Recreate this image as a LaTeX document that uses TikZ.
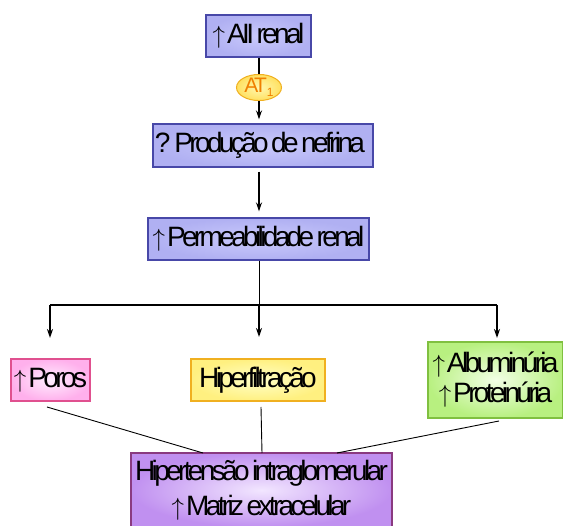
\documentclass[tikz,border=0pt]{standalone}
\usepackage{fontspec}
\setmainfont{Liberation Sans}[LetterSpace=-13,WordSpace=0.6]
\usetikzlibrary{arrows.meta,shapes.geometric}
\definecolor{bluefill}{HTML}{B0B0F2}
\definecolor{bluein}{HTML}{CACAFC}
\definecolor{blueline}{HTML}{4848A8}
\definecolor{pinkout}{HTML}{FFB0EC}
\definecolor{pinkin}{HTML}{FFEEFF}
\definecolor{pinkline}{HTML}{E0508F}
\definecolor{yelout}{HTML}{FFF080}
\definecolor{yelin}{HTML}{FFFFC8}
\definecolor{yelline}{HTML}{F0B020}
\definecolor{elout}{HTML}{FFE060}
\definecolor{elin}{HTML}{FFF8B0}
\definecolor{greenout}{HTML}{B8F080}
\definecolor{greenin}{HTML}{F2FFE6}
\definecolor{greenline}{HTML}{80C040}
\definecolor{purpout}{HTML}{C090F0}
\definecolor{purpin}{HTML}{F2E6FF}
\definecolor{purpline}{HTML}{8A3A80}
\definecolor{atorange}{HTML}{F08000}
\newcommand{\up}{$\uparrow$\hspace{2pt}}
\tikzset{
  basebox/.style={draw, line width=1.2pt, inner sep=0pt, align=center,
    font=\fontsize{28}{30}\selectfont},
  bluebox/.style={basebox, draw=blueline, inner color=bluein, outer color=bluefill},
  pinkbox/.style={basebox, draw=pinkline, inner color=pinkin, outer color=pinkout},
  yelbox/.style={basebox, draw=yelline, inner color=yelin, outer color=yelout},
  greenbox/.style={basebox, draw=greenline, inner color=greenin, outer color=greenout},
  purpbox/.style={basebox, draw=purpline, inner color=purpin, outer color=purpout,
    font=\fontsize{28}{35}\selectfont},
  recep/.style={ellipse, draw=yelline, line width=1pt, inner color=elin, outer color=elout,
    minimum width=45pt, minimum height=23pt, inner sep=0pt, text=atorange,
    font=\fontsize{21}{22}\selectfont},
  arr/.style={line width=1.6pt, -{Stealth[length=9pt,width=6pt]}},
  plain/.style={line width=1.6pt},
  thin/.style={line width=0.9pt}
}
\begin{document}
\begin{tikzpicture}[x=1pt,y=-1pt]
\useasboundingbox (0,0) rectangle (563,526);
\begin{scope}
\clip (0,0) rectangle (563,526);
\node[bluebox, minimum width=105pt, minimum height=42pt] (all) at (258.5,36) {\up AII renal};
\node[recep] (at1) at (259,87.5) {AT\raisebox{-4pt}{\fontsize{12}{12}\selectfont 1}};
\node[bluebox, minimum width=220pt, minimum height=43pt] (nef) at (263,145.5) {? Produção de nefrina\hspace{6pt}};
\node[bluebox, minimum width=221pt, minimum height=42pt] (perm) at (258.5,239) {\up Permeabilidade renal};
\node[pinkbox, minimum width=79pt, minimum height=42pt] (por) at (50.5,380) {\up Poros};
\node[yelbox, minimum width=134pt, minimum height=42pt] (hip) at (258,380) {Hiperfiltração};
\node[greenbox, minimum width=135pt, minimum height=76pt] (alb) at (495.5,380) {\up Albuminúria\\\up Proteinúria};
\node[purpbox, minimum width=261pt, minimum height=74pt] (hpt) at (261.5,490) {Hipertensão intraglomerular\\\up Matriz extracelular};

\coordinate (j) at (259,305);
\coordinate (jl) at (50,305);
\coordinate (jr) at (497,305);
\coordinate (tl) at (50,338);
\coordinate (tm) at (259,337);
\coordinate (tr) at (497,338);
\coordinate (s1) at (47,407);
\coordinate (s2) at (261,407);
\coordinate (s3) at (499,421);
\coordinate (e1) at (203,453);
\coordinate (e2) at (262,453);
\coordinate (e3) at (337,453);

\draw[plain] (all.south -| at1.north) -- (at1.north);
\draw[arr, shorten >=4pt] (at1.south) -- (at1.south |- nef.north);
\draw[arr, shorten <=4pt, shorten >=6pt] (at1.south |- nef.south) -- (at1.south |- perm.north);
\draw[thin] (perm.south -| at1.south) -- (j);
\draw[plain] (jl) -- (jr);
\draw[arr] (jl) -- (tl);
\draw[arr] (j) -- (tm);
\draw[arr] (jr) -- (tr);
\draw[thin] (s1) -- (e1);
\draw[thin] (s2) -- (e2);
\draw[thin] (s3) -- (e3);
\end{scope}
\end{tikzpicture}
\end{document}
